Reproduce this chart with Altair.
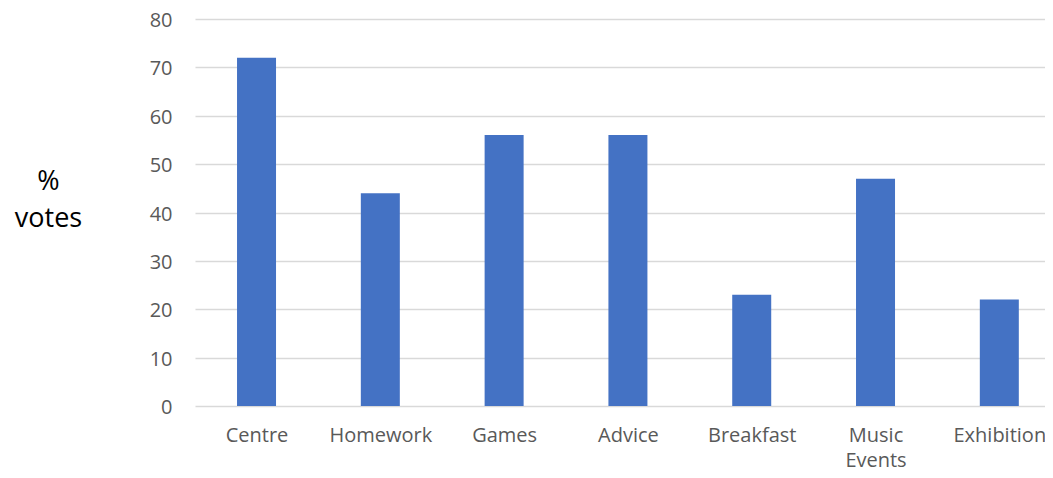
import json
import altair as alt
import pandas as pd

categories = ["Centre", "Homework", "Games", "Advice", "Breakfast", "Music Events", "Exhibition"]
votes = [72, 44, 56, 56, 23, 47, 22]
y_ticks = [0, 10, 20, 30, 40, 50, 60, 70, 80]

df = pd.DataFrame({"idx": list(range(len(categories))), "category": categories, "votes": votes})

# label lines (multi-word labels wrap onto two lines)
label_lines = [c.split(" ") if " " in c else c for c in categories]
label_expr = json.dumps(label_lines) + "[datum.value]"

chart = alt.Chart(df).mark_bar(color="#4472C4", width=39).encode(
    x=alt.X("idx:Q", scale=alt.Scale(domain=[-0.497, 6.369], nice=False, zero=False, padding=0),
            axis=alt.Axis(title=None, values=list(range(len(categories))), labelAngle=0,
                          domain=False, ticks=False, grid=False,
                          labelFont="Open Sans", labelFontSize=20, labelColor="#595959",
                          labelPadding=19, labelLineHeight=25, labelFlush=False,
                          labelOverlap=False, labelExpr=label_expr)),
    y=alt.Y("votes:Q", scale=alt.Scale(domain=[0, 80], nice=False),
            axis=alt.Axis(values=y_ticks, title=["%", "votes"], titleAngle=0,
                          titleX=-147, titleY=162, titleAlign="center", titleBaseline="middle",
                          titleFont="Open Sans", titleFontSize=27, titleFontWeight="normal",
                          titleColor="#000000", titleLineHeight=37,
                          domain=False, ticks=False, labelPadding=23, labelOffset=1.5,
                          labelFont="Open Sans", labelFontSize=20, labelColor="#595959",
                          gridColor="#D9D9D9", gridWidth=1.5)),
    tooltip=["category", "votes"],
).properties(
    width=850, height=387,
    autosize=alt.AutoSizeParams(type="none"),
    padding={"left": 187, "top": 11, "right": 0, "bottom": 64},
).configure_view(stroke=None)

chart.save("out.html", embed_options={"renderer": "svg", "actions": False})
